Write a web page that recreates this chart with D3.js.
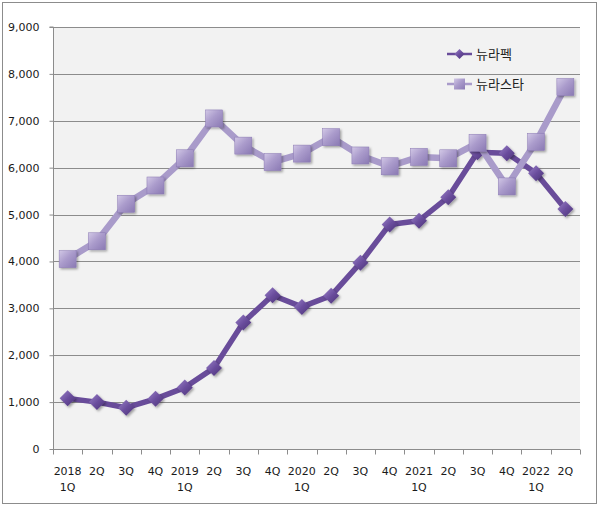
<!DOCTYPE html>
<html><head><meta charset="utf-8">
<script src="https://cdn.jsdelivr.net/npm/d3@7/dist/d3.min.js"></script>
<style>body{margin:0;background:#fff}svg{display:block}</style>
</head><body>
<svg id="c" width="600" height="506"></svg>
<script>
const categories = ["2018\n1Q","2Q","3Q","4Q","2019\n1Q","2Q","3Q","4Q","2020\n1Q","2Q","3Q","4Q","2021\n1Q","2Q","3Q","4Q","2022\n1Q","2Q"];
const nurapec = [1080,1000,880,1070,1310,1730,2700,3280,3030,3270,3970,4790,4870,5370,6330,6310,5880,5120];
const nurastar = [4050,4430,5230,5620,6200,7050,6470,6120,6300,6650,6260,6030,6230,6200,6530,5600,6550,7720];
const yTicks = [0,1000,2000,3000,4000,5000,6000,7000,8000,9000];
const seriesNames = ["뉴라펙","뉴라스타"];

const svg = d3.select("#c");
const L=53,T=27,R=580,B=449;
const font = "'DejaVu Sans', Verdana, sans-serif";

const defs = svg.append("defs");
const gd = defs.append("linearGradient").attr("id","gd").attr("x1","0").attr("y1","0").attr("x2","1").attr("y2","1");
gd.append("stop").attr("offset","0").attr("stop-color","#9a82c8");
gd.append("stop").attr("offset","0.5").attr("stop-color","#6b4e9e");
gd.append("stop").attr("offset","1").attr("stop-color","#4a3276");
const gs = defs.append("linearGradient").attr("id","gs").attr("x1","0").attr("y1","0").attr("x2","1").attr("y2","1");
gs.append("stop").attr("offset","0").attr("stop-color","#d2c8e6");
gs.append("stop").attr("offset","0.45").attr("stop-color","#ab9ccc");
gs.append("stop").attr("offset","1").attr("stop-color","#8a79b3");
const sh = defs.append("filter").attr("id","sh").attr("x","-50%").attr("y","-50%").attr("width","200%").attr("height","200%");
sh.append("feDropShadow").attr("dx",1.5).attr("dy",1.5).attr("stdDeviation",1.2).attr("flood-color","#000").attr("flood-opacity",0.35);

svg.append("rect").attr("x",2.5).attr("y",2.5).attr("width",594).attr("height",501).attr("fill","#fff").attr("stroke","#8c8c8c");
svg.append("rect").attr("x",L).attr("y",T).attr("width",R-L).attr("height",B-T).attr("fill","#f2f2f2");

const x = d3.scaleBand().domain(d3.range(categories.length)).range([L,R]);
const y = d3.scaleLinear().domain([0,9000]).range([B,T]);

// grid
svg.append("g").selectAll("line").data(yTicks.filter(d=>d>0)).join("line")
  .attr("x1",L).attr("x2",R).attr("y1",d=>Math.round(y(d))+0.5).attr("y2",d=>Math.round(y(d))+0.5)
  .attr("stroke","#8c8c8c").attr("stroke-width",1);

// y axis
const ya = svg.append("g").attr("transform",`translate(${L+0.5},0)`)
  .call(d3.axisLeft(y).tickValues(yTicks).tickFormat(d3.format(",")).tickSize(4).tickPadding(10));
ya.select(".domain").attr("stroke","#8c8c8c").attr("d",`M-4,${T}H0V${B}`);
ya.selectAll(".tick line").attr("stroke","#8c8c8c");
ya.selectAll("text").attr("font-family",font).attr("font-size",11).attr("fill","#1a1a1a");

// x axis
const xa = svg.append("g").attr("transform",`translate(0,${B+0.5})`);
xa.append("line").attr("x1",L).attr("x2",R).attr("stroke","#8c8c8c");
xa.selectAll("line.t").data(d3.range(categories.length+1)).join("line").attr("class","t")
  .attr("x1",i=>Math.round(L+i*x.step())+0.5).attr("x2",i=>Math.round(L+i*x.step())+0.5)
  .attr("y1",0).attr("y2",5).attr("stroke","#8c8c8c");
const xl = xa.selectAll("text").data(categories).join("text")
  .attr("font-family",font).attr("font-size",11).attr("fill","#1a1a1a").attr("text-anchor","middle");
xl.each(function(d,i){
  const parts=d.split("\n");
  parts.forEach((p,j)=>d3.select(this).append("tspan").attr("x",x(i)+x.bandwidth()/2).attr("y",25+j*16).text(p));
});

const line = d3.line().x((d,i)=>x(i)+x.bandwidth()/2).y(d=>y(d));

// series 1
svg.append("path").datum(nurapec).attr("d",line).attr("fill","none").attr("stroke","#694c9a").attr("stroke-width",5.5).attr("stroke-linejoin","round");
svg.append("g").selectAll("path").data(nurapec).join("path")
  .attr("d","M0,-8L8,0L0,8L-8,0Z")
  .attr("transform",(d,i)=>`translate(${x(i)+x.bandwidth()/2},${y(d)})`)
  .attr("fill","url(#gd)").attr("filter","url(#sh)");

// series 2
svg.append("path").datum(nurastar).attr("d",line).attr("fill","none").attr("stroke","#a99bca").attr("stroke-width",6.5).attr("stroke-linejoin","round");
svg.append("g").selectAll("rect").data(nurastar).join("rect")
  .attr("x",(d,i)=>x(i)+x.bandwidth()/2-8.5).attr("y",d=>y(d)-8.5).attr("width",17).attr("height",17)
  .attr("fill","url(#gs)").attr("stroke","#8a79b3").attr("stroke-width",0.5).attr("filter","url(#sh)");

// legend
const lg = svg.append("g");
const ly = [54,84];
lg.append("line").attr("x1",447).attr("x2",472).attr("y1",ly[0]).attr("y2",ly[0]).attr("stroke","#694c9a").attr("stroke-width",2.5);
lg.append("path").attr("d","M0,-5L5,0L0,5L-5,0Z").attr("transform",`translate(459.5,${ly[0]})`).attr("fill","url(#gd)");
lg.append("line").attr("x1",447).attr("x2",472).attr("y1",ly[1]).attr("y2",ly[1]).attr("stroke","#a99bca").attr("stroke-width",2.5);
lg.append("rect").attr("x",454).attr("y",ly[1]-5.5).attr("width",11).attr("height",11).attr("fill","url(#gs)");
lg.selectAll("text").data(seriesNames).join("text")
  .attr("x",476).attr("y",(d,i)=>ly[i]+5).text(d=>d)
  .attr("font-family","'Noto Sans CJK KR', sans-serif").attr("font-size",13).attr("fill","#222");
</script>
</body></html>
